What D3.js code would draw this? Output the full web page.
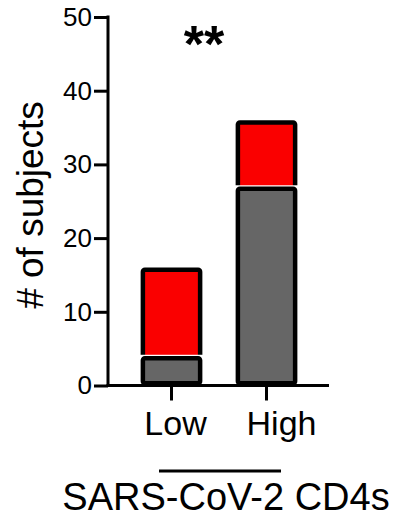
<!DOCTYPE html>
<html lang="en">
<head>
  <meta charset="utf-8" />
  <title>SARS-CoV-2 CD4s</title>
  <script src="https://cdn.jsdelivr.net/npm/d3@7"></script>
  <style>
    body { margin: 0; background: white; }
    text { font-family: "Liberation Sans", Arial, sans-serif; fill: black; }
  </style>
</head>
<body>
<script>

// data
var categories = ["Low", "High"];
var greyCounts = [4, 27];
var redCounts = [12, 9];
var yTicks = [0, 10, 20, 30, 40, 50];
var labelShift = [4, 15]; // x labels sit a bit right of their ticks

var w = 398, h = 518;
var sw = 4.5; // bar outline

var svg = d3.select("body").append("svg")
            .attr("width", w)
            .attr("height", h);

var yScale = d3.scaleLinear()
               .domain([0, 50])
               .range([385.5, 17]);
var xScale = d3.scaleBand()
               .domain(categories)
               .range([124, 314])
               .paddingInner(0.35)
               .paddingOuter(0.175);

var bars = categories.map(function(c, i) {
  return {cat: c, grey: greyCounts[i], total: greyCounts[i] + redCounts[i]};
});

var g = svg.append("g");

// full bar in red, grey part on top of it
g.selectAll("rect.red")
 .data(bars)
 .enter().append("rect")
 .attr("class", "red")
 .attr("x", function(d) { return xScale(d.cat) + sw / 2; })
 .attr("width", xScale.bandwidth() - sw)
 .attr("y", function(d) { return yScale(d.total) + sw / 2; })
 .attr("height", function(d) { return yScale(0) - yScale(d.total) - sw; })
 .attr("rx", 2)
 .attr("fill", "#fa0000")
 .attr("stroke", "black")
 .attr("stroke-width", sw);

g.selectAll("rect.halo")
 .data(bars)
 .enter().append("rect")
 .attr("class", "halo")
 .attr("x", function(d) { return xScale(d.cat) + sw / 2; })
 .attr("width", xScale.bandwidth() - sw)
 .attr("y", function(d) { return yScale(d.grey) + sw / 2; })
 .attr("height", function(d) { return yScale(0) - yScale(d.grey) - sw; })
 .attr("fill", "none")
 .attr("stroke", "white")
 .attr("stroke-width", sw + 2.5);

g.selectAll("rect.grey")
 .data(bars)
 .enter().append("rect")
 .attr("class", "grey")
 .attr("x", function(d) { return xScale(d.cat) + sw / 2; })
 .attr("width", xScale.bandwidth() - sw)
 .attr("y", function(d) { return yScale(d.grey) + sw / 2; })
 .attr("height", function(d) { return yScale(0) - yScale(d.grey) - sw; })
 .attr("rx", 2)
 .attr("fill", "#666666")
 .attr("stroke", "black")
 .attr("stroke-width", sw);

// y axis
var yAxis = d3.axisLeft(yScale)
              .tickValues(yTicks)
              .tickSize(14)
              .tickSizeOuter(0)
              .tickPadding(2);
var ya = svg.append("g")
            .attr("transform", "translate(108,0)")
            .call(yAxis);
ya.select(".domain").attr("stroke-width", 3)
  .attr("d", "M0," + (yScale(50) - 1.5) + "V" + yScale(0));
ya.selectAll(".tick line").attr("stroke-width", 3);
ya.selectAll(".tick text")
  .style("font-size", "26px")
  .style("font-family", "'Liberation Sans', Arial, sans-serif");

// x axis
var xAxis = d3.axisBottom(xScale)
              .tickSize(15)
              .tickSizeOuter(0)
              .tickPadding(10);
var xa = svg.append("g")
            .attr("transform", "translate(0," + yScale(0) + ")")
            .call(xAxis);
xa.select(".domain").attr("stroke-width", 3)
  .attr("d", "M106.5,0H329");
xa.selectAll(".tick line").attr("stroke-width", 3);
xa.selectAll(".tick text")
  .attr("dx", function(d, i) { return labelShift[i]; })
  .style("font-size", "34px")
  .style("font-family", "'Liberation Sans', Arial, sans-serif");

// y title
svg.append("text")
   .attr("transform", "translate(43,205) rotate(-90)")
   .attr("text-anchor", "middle")
   .style("font-size", "37px")
   .text("# of subjects");

// significance
svg.append("text")
   .attr("x", 204)
   .attr("y", 62)
   .attr("text-anchor", "middle")
   .style("font-size", "52px")
   .style("font-weight", "bold")
   .text("**");

// group bracket and title
svg.append("line")
   .attr("x1", 159).attr("x2", 281)
   .attr("y1", 471).attr("y2", 471)
   .attr("stroke", "black")
   .attr("stroke-width", 3);
svg.append("text")
   .attr("x", 226)
   .attr("y", 510)
   .attr("text-anchor", "middle")
   .style("font-size", "38px")
   .text("SARS-CoV-2 CD4s");

</script>
</body>
</html>
